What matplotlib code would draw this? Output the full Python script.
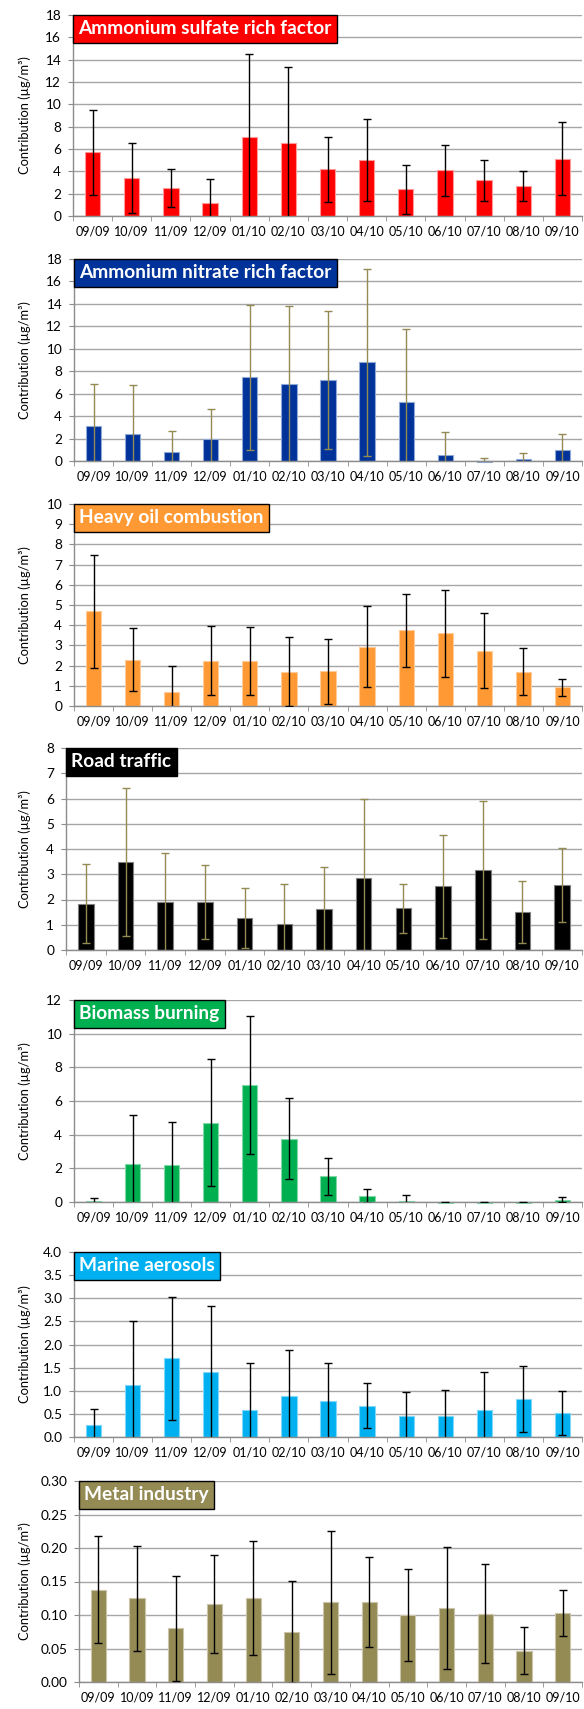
import numpy as np
import matplotlib
matplotlib.use("Agg")
import matplotlib.pyplot as plt
from matplotlib.ticker import MultipleLocator, FormatStrFormatter

plt.rcParams['font.family'] = ['Lato', 'DejaVu Sans']

months = ["09/09", "10/09", "11/09", "12/09", "01/10", "02/10", "03/10",
          "04/10", "05/10", "06/10", "07/10", "08/10", "09/10"]

sulfate = [5.70, 3.37, 2.51, 1.16, 7.10, 6.54, 4.18, 5.01, 2.39, 4.09, 3.19, 2.69, 5.13]
sulfate_err = [3.80, 3.14, 1.74, 2.15, 7.41, 6.83, 2.91, 3.66, 2.20, 2.27, 1.82, 1.35, 3.25]

nitrate = [3.12, 2.44, 0.83, 1.93, 7.48, 6.83, 7.22, 8.79, 5.26, 0.56, -0.08, 0.18, 1.01]
nitrate_err = [3.74, 4.33, 1.81, 2.73, 6.46, 6.95, 6.16, 8.32, 6.47, 2.02, 0.32, 0.50, 1.40]

heavy_oil = [4.68, 2.30, 0.68, 2.25, 2.21, 1.70, 1.72, 2.94, 3.75, 3.59, 2.74, 1.69, 0.93]
heavy_oil_err = [2.80, 1.58, 1.32, 1.71, 1.68, 1.70, 1.60, 2.00, 1.80, 2.15, 1.85, 1.16, 0.42]

traffic = [1.83, 3.49, 1.89, 1.89, 1.27, 1.03, 1.63, 2.87, 1.65, 2.53, 3.16, 1.51, 2.58]
traffic_err = [1.56, 2.92, 1.95, 1.46, 1.18, 1.58, 1.65, 3.12, 0.98, 2.04, 2.74, 1.23, 1.47]

biomass = [0.04, 2.23, 2.19, 4.72, 6.94, 3.77, 1.52, 0.36, 0.08, -0.04, -0.04, -0.04, 0.14]
biomass_err = [0.22, 2.95, 2.55, 3.77, 4.10, 2.40, 1.11, 0.41, 0.33, 0.03, 0.03, 0.03, 0.14]

marine = [0.25, 1.13, 1.70, 1.40, 0.58, 0.89, 0.77, 0.68, 0.45, 0.46, 0.59, 0.82, 0.52]
marine_err = [0.35, 1.37, 1.33, 1.44, 1.03, 0.99, 0.84, 0.48, 0.53, 0.56, 0.82, 0.72, 0.48]

metal = [0.138, 0.125, 0.080, 0.116, 0.126, 0.075, 0.119, 0.119, 0.100, 0.110, 0.102, 0.047, 0.103]
metal_err = [0.080, 0.078, 0.078, 0.073, 0.085, 0.076, 0.107, 0.067, 0.068, 0.091, 0.074, 0.035, 0.034]

W, H = 584, 1709
RIGHT = 582
fig = plt.figure(figsize=(W / 100, H / 100), dpi=100)
AXIS_GREY = '#8C8C8C'


def panel(left, top, bottom, vals, errs, color, edge, ecol, title, ymax, step, fmt):
    ax = fig.add_axes([left / W, 1 - bottom / H, (RIGHT - left) / W, (bottom - top) / H])
    x = np.arange(len(months))
    ax.bar(x, vals, width=0.39, color=color, edgecolor=edge, linewidth=0.8,
           zorder=2, clip_on=False)
    ax.errorbar(x, vals, yerr=errs, fmt='none', ecolor=ecol, elinewidth=1,
                capsize=3, capthick=1, zorder=3)
    ax.set_xlim(-0.5, len(months) - 0.5)
    ax.set_ylim(0, ymax)
    ax.yaxis.set_major_locator(MultipleLocator(step))
    ax.yaxis.set_major_formatter(FormatStrFormatter(fmt))
    ax.grid(axis='y', color='#A6A6A6', lw=1)
    ax.set_axisbelow(True)

    for s in ['top', 'right']:
        ax.spines[s].set_visible(False)
    for s in ['left', 'bottom']:
        ax.spines[s].set_color(AXIS_GREY)
        ax.spines[s].set_linewidth(1)

    ax.set_xticks(x)
    ax.set_xticklabels(months)
    ax.set_xticks(np.arange(len(months) + 1) - 0.5, minor=True)
    ax.tick_params(axis='x', which='major', length=0, pad=7, labelsize=9)
    ax.tick_params(axis='x', which='minor', length=3.5, color=AXIS_GREY)
    ax.tick_params(axis='y', length=3.5, color=AXIS_GREY, pad=5, labelsize=9.8)

    ax.set_ylabel('Contribution (µg/m³)', fontsize=9.3)
    ax.yaxis.set_label_coords((31 - left) / (RIGHT - left), 0.5)

    fs = 13.8
    pad = 0.28
    ax.annotate(title, xy=(0, 1), xycoords='axes fraction',
                xytext=(pad * fs, -pad * fs), textcoords='offset points',
                ha='left', va='top', color='white', fontweight='bold', fontsize=fs,
                bbox=dict(boxstyle='square,pad=%s' % pad, fc=color, ec='black', lw=1),
                zorder=5)
    return ax


panel(73, 15, 216, sulfate, sulfate_err, '#FF0000', '#FF9999', 'black',
      'Ammonium sulfate rich factor', 18, 2, '%d')
panel(74, 259, 461, nitrate, nitrate_err, '#003399', '#8FA8D8', '#948A54',
      'Ammonium nitrate rich factor', 18, 2, '%d')
panel(74, 504, 706, heavy_oil, heavy_oil_err, '#FF9933', '#FFCC99', 'black',
      'Heavy oil combustion', 10, 1, '%d')
panel(66, 748, 950, traffic, traffic_err, '#000000', '#7F7F7F', '#948A54',
      'Road traffic', 8, 1, '%d')
panel(74, 1000, 1202, biomass, biomass_err, '#00B050', '#80D8A8', 'black',
      'Biomass burning', 12, 2, '%d')
panel(74, 1252, 1437, marine, marine_err, '#00B0F0', '#80D8F8', 'black',
      'Marine aerosols', 4.0, 0.5, '%.1f')
panel(79, 1481, 1682, metal, metal_err, '#948A54', '#CAC5AA', 'black',
      'Metal industry', 0.30, 0.05, '%.2f')

fig.savefig('out.png', dpi=100)
